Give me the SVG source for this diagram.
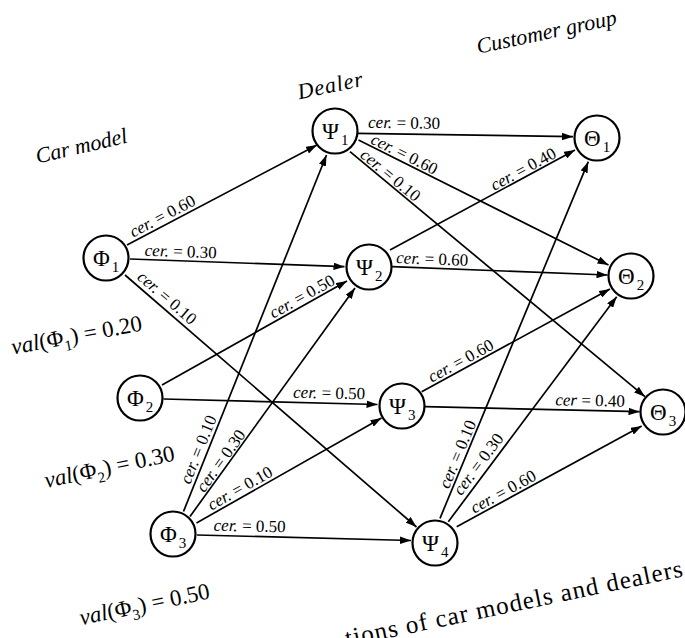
<svg xmlns="http://www.w3.org/2000/svg" width="685" height="638" viewBox="0 0 685 638">
<defs>
<marker id="ah" viewBox="0 0 11 7.5" refX="11" refY="3.75" markerWidth="11" markerHeight="7.5" markerUnits="userSpaceOnUse" orient="auto">
<path d="M0,0 L11,3.75 L0,7.5 z" fill="#000"/>
</marker>
<style>
.bg { fill: #fff; }
.node circle { fill: #fff; stroke: #000; stroke-width: 2.2; }
.nl { font-family: "Liberation Serif", "Times New Roman", serif; font-size: 23px; fill: #000; }
.sub { font-size: 15px; }
.edges line { stroke: #000; stroke-width: 1.7; fill: none; marker-end: url(#ah); }
.el { font-family: "Liberation Serif", "Times New Roman", serif; font-size: 17px; fill: #000; text-anchor: middle; }
.it { font-style: italic; }
.title { font-family: "Liberation Serif", "Times New Roman", serif; font-size: 22px; font-style: italic; fill: #000; text-anchor: middle; }
.val { font-family: "Liberation Serif", "Times New Roman", serif; font-size: 23px; fill: #000; text-anchor: middle; }
.vsub { font-size: 15px; }
.cap { font-family: "Liberation Serif", "Times New Roman", serif; font-size: 25px; fill: #000; }
</style>
</defs>
<rect class="bg" x="0" y="0" width="685" height="638"/>

<g id="titles">
<text class="title" transform="translate(83,153) rotate(-13)">Car model</text>
<text class="title" transform="translate(331.5,92.5) rotate(-12)" textLength="66">Dealer</text>
<text class="title" transform="translate(548,39) rotate(-12)">Customer group</text>
<text class="val" transform="translate(78,342.5) rotate(-10.5)"><tspan class="it">val</tspan>(Φ<tspan class="vsub" dy="6">1</tspan><tspan dy="-6">) = 0.20</tspan></text>
<text class="val" transform="translate(111,474.2) rotate(-12)"><tspan class="it">val</tspan>(Φ<tspan class="vsub" dy="6">2</tspan><tspan dy="-6">) = 0.30</tspan></text>
<text class="val" transform="translate(146,611.7) rotate(-11.7)"><tspan class="it">val</tspan>(Φ<tspan class="vsub" dy="6">3</tspan><tspan dy="-6">) = 0.50</tspan></text>
<text class="cap" transform="translate(347,646.5) rotate(-11.8)" textLength="344">tions of car models and dealers</text>
</g>

<g id="connectors" class="edges">
<line x1="127" y1="245" x2="317" y2="145"/>
<line x1="130" y1="259" x2="344.5" y2="266.7"/>
<line x1="125" y1="275" x2="416.5" y2="527"/>
<line x1="162" y1="385" x2="347" y2="281"/>
<line x1="163.5" y1="399" x2="377.5" y2="404.5"/>
<line x1="183.5" y1="511.5" x2="326.5" y2="155"/>
<line x1="190" y1="516.5" x2="355" y2="288"/>
<line x1="196.5" y1="523" x2="381.5" y2="418"/>
<line x1="197" y1="535" x2="411" y2="540.5"/>
<line x1="357" y1="133.3" x2="573" y2="136.7"/>
<line x1="358.5" y1="140" x2="608.5" y2="265"/>
<line x1="350" y1="151.7" x2="645" y2="396.7"/>
<line x1="390" y1="250" x2="575" y2="150"/>
<line x1="392" y1="266.7" x2="607.5" y2="275"/>
<line x1="421.7" y1="391.7" x2="610" y2="289"/>
<line x1="425" y1="406.7" x2="639.5" y2="411.7"/>
<line x1="440" y1="518.3" x2="588.3" y2="161.7"/>
<line x1="448.3" y1="521.7" x2="616.7" y2="296.7"/>
<line x1="456.7" y1="526.7" x2="641.7" y2="426"/>
</g>

<g id="edge-labels">
<text class="el" transform="translate(165,221) rotate(-27.8)"><tspan class="it">cer.</tspan> = 0.60</text>
<text class="el" transform="translate(180.5,257) rotate(2)"><tspan class="it">cer.</tspan> = 0.30</text>
<text class="el" transform="translate(163.5,302) rotate(40.8)"><tspan class="it">cer.</tspan> = 0.10</text>
<text class="el" transform="translate(304.7,301.3) rotate(-29.2)"><tspan class="it">cer.</tspan> = 0.50</text>
<text class="el" transform="translate(329,398.5) rotate(1.3)"><tspan class="it">cer.</tspan> = 0.50</text>
<text class="el" transform="translate(203.4,451.6) rotate(-68.1)"><tspan class="it">cer.</tspan> = 0.10</text>
<text class="el" transform="translate(225.3,464) rotate(-54.2)"><tspan class="it">cer.</tspan> = 0.30</text>
<text class="el" transform="translate(242.7,493) rotate(-29.6)"><tspan class="it">cer.</tspan> = 0.10</text>
<text class="el" transform="translate(249.5,531.5) rotate(1.3)"><tspan class="it">cer.</tspan> = 0.50</text>
<text class="el" transform="translate(404,128.3) rotate(0.9)"><tspan class="it">cer.</tspan> = 0.30</text>
<text class="el" transform="translate(402,159) rotate(26.6)"><tspan class="it">cer.</tspan> = 0.60</text>
<text class="el" transform="translate(387,179.5) rotate(39.7)"><tspan class="it">cer.</tspan> = 0.10</text>
<text class="el" transform="translate(525.9,174) rotate(-28.4)"><tspan class="it">cer.</tspan> = 0.40</text>
<text class="el" transform="translate(432,264.5) rotate(2.2)"><tspan class="it">cer.</tspan> = 0.60</text>
<text class="el" transform="translate(463.4,365.6) rotate(-28.6)"><tspan class="it">cer.</tspan> = 0.60</text>
<text class="el" transform="translate(590,406) rotate(1.3)"><tspan class="it">cer</tspan> = 0.40</text>
<text class="el" transform="translate(462.6,456.3) rotate(-67.4)"><tspan class="it">cer.</tspan> = 0.10</text>
<text class="el" transform="translate(482.7,467.5) rotate(-53.2)"><tspan class="it">cer.</tspan> = 0.30</text>
<text class="el" transform="translate(505.9,496.5) rotate(-28.6)"><tspan class="it">cer.</tspan> = 0.60</text>
</g>

<g id="phi1" class="node"><circle cx="106" cy="258" r="22.5"/><text class="nl" x="93" y="266">Φ<tspan class="sub" dx="2" dy="6">1</tspan></text></g>
<g id="phi2" class="node"><circle cx="140" cy="398" r="22.5"/><text class="nl" x="127" y="406">Φ<tspan class="sub" dx="2" dy="6">2</tspan></text></g>
<g id="phi3" class="node"><circle cx="173" cy="534" r="22.5"/><text class="nl" x="160" y="542">Φ<tspan class="sub" dx="2" dy="6">3</tspan></text></g>
<g id="psi1" class="node"><circle cx="335" cy="131" r="22.5"/><text class="nl" x="322" y="139">Ψ<tspan class="sub" dx="2" dy="6">1</tspan></text></g>
<g id="psi2" class="node"><circle cx="369" cy="267" r="22.5"/><text class="nl" x="356" y="275">Ψ<tspan class="sub" dx="2" dy="6">2</tspan></text></g>
<g id="psi3" class="node"><circle cx="402" cy="406" r="22.5"/><text class="nl" x="389" y="414">Ψ<tspan class="sub" dx="2" dy="6">3</tspan></text></g>
<g id="psi4" class="node"><circle cx="435" cy="543" r="22.5"/><text class="nl" x="422" y="551">Ψ<tspan class="sub" dx="2" dy="6">4</tspan></text></g>
<g id="theta1" class="node"><circle cx="597" cy="138" r="22.5"/><text class="nl" x="584" y="146">Θ<tspan class="sub" dx="2" dy="6">1</tspan></text></g>
<g id="theta2" class="node"><circle cx="631" cy="276" r="22.5"/><text class="nl" x="618" y="284">Θ<tspan class="sub" dx="2" dy="6">2</tspan></text></g>
<g id="theta3" class="node"><circle cx="663" cy="412" r="22.5"/><text class="nl" x="650" y="420">Θ<tspan class="sub" dx="2" dy="6">3</tspan></text></g>
</svg>
